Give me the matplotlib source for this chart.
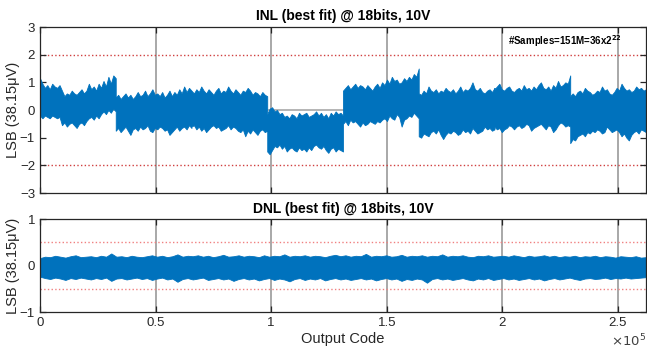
import numpy as np
import matplotlib.pyplot as plt
from matplotlib.ticker import FixedLocator, FixedFormatter

plt.rcParams['font.family'] = ['Liberation Sans', 'DejaVu Sans']

# INL envelope: 8 blocks of 32768 codes, 32 samples per block
seg_len = 32768
inl_upper = [
    [1.15, 0.95, 0.8, 0.9, 0.75, 0.95, 0.85, 0.8, 0.9, 0.7, 0.5, 0.6, 0.55, 0.7, 0.6, 0.55,
     0.65, 0.75, 0.6, 0.7, 0.95, 0.75, 0.85, 0.7, 0.95, 0.8, 1.05, 0.85, 1.2, 0.95, 1.25, 1.15],
    [0.45, 0.55, 0.4, 0.5, 0.6, 0.45, 0.55, 0.4, 0.5, 0.65, 0.5, 0.55, 0.7, 0.5, 0.6, 0.75,
     0.55, 0.6, 0.5, 0.65, 0.45, 0.55, 0.7, 0.5, 0.65, 0.55, 0.75, 0.6, 0.85, 0.65, 0.8, 0.7],
    [0.7, 0.6, 0.75, 0.65, 0.85, 0.7, 0.6, 0.75, 0.65, 0.55, 0.7, 0.8, 0.6, 0.7, 0.65, 0.85,
     0.7, 0.6, 0.75, 0.65, 0.55, 0.7, 0.65, 0.8, 0.7, 0.55, 0.65, 0.6, 0.5, 0.65, 0.55, 0.5],
    [-0.15, 0.05, 0.1, -0.05, 0.0, -0.15, -0.1, -0.25, -0.2, -0.3, -0.15, -0.2, -0.3, -0.1, -0.2, -0.15,
     -0.1, -0.25, -0.2, -0.15, -0.05, -0.2, -0.1, -0.25, -0.15, -0.3, -0.1, -0.2, -0.05, -0.15, -0.1, -0.2],
    [0.7, 0.8, 0.9, 0.75, 0.85, 0.95, 0.8, 0.9, 0.85, 0.75, 0.9, 0.8, 0.7, 0.85, 0.95, 0.8,
     1.0, 0.9, 1.1, 0.95, 1.2, 1.05, 1.1, 0.95, 1.0, 1.15, 1.05, 1.2, 1.1, 1.3, 1.2, 1.5],
    [0.6, 0.55, 0.7, 0.6, 0.85, 0.7, 0.65, 0.75, 0.6, 0.7, 0.65, 0.8, 0.7, 0.65, 0.75, 0.6,
     0.7, 0.85, 0.65, 0.75, 0.7, 0.8, 1.0, 0.75, 0.7, 0.8, 0.65, 0.6, 0.7, 0.75, 0.65, 0.8],
    [0.75, 0.85, 0.95, 0.75, 0.7, 0.8, 0.85, 0.7, 0.65, 0.75, 0.8, 0.7, 0.9, 0.75, 0.8, 0.7,
     0.85, 0.75, 0.9, 1.0, 0.8, 0.75, 0.85, 0.7, 0.9, 0.8, 1.05, 0.85, 0.9, 1.0, 0.95, 1.25],
    [0.5, 0.6, 0.5, 0.65, 0.7, 0.6, 0.8, 0.7, 0.65, 0.55, 0.6, 0.7, 0.65, 0.85, 0.7, 0.75,
     0.6, 0.55, 0.65, 0.8, 0.7, 0.95, 0.8, 0.7, 0.75, 0.65, 0.7, 0.85, 0.75, 0.8, 0.7, 0.75],
]
inl_lower = [
    [-0.2, -0.3, -0.2, -0.25, -0.3, -0.2, -0.25, -0.3, -0.25, -0.55, -0.45, -0.6, -0.5, -0.45, -0.55, -0.65,
     -0.5, -0.45, -0.55, -0.4, -0.3, -0.25, -0.35, -0.2, -0.3, -0.15, -0.05, -0.15, 0.0, -0.1, 0.05, -0.05],
    [-0.75, -0.65, -0.8, -0.7, -0.6, -0.75, -0.9, -0.7, -0.65, -0.75, -0.6, -0.7, -0.65, -0.55, -0.75, -0.8,
     -0.65, -0.7, -0.6, -0.65, -0.75, -0.7, -0.9, -0.8, -0.7, -0.6, -0.75, -0.65, -0.6, -0.7, -0.55, -0.65],
    [-0.6, -0.55, -0.7, -0.6, -0.75, -0.65, -0.8, -0.7, -0.6, -0.55, -0.65, -0.6, -0.75, -0.7, -0.65, -0.55,
     -0.7, -0.6, -0.65, -0.75, -0.8, -0.7, -0.95, -0.75, -0.85, -0.7, -0.8, -0.9, -0.75, -0.7, -0.8, -0.75],
    [-1.5, -1.6, -1.45, -1.3, -1.35, -1.25, -1.4, -1.3, -1.5, -1.4, -1.35, -1.45, -1.5, -1.35, -1.45, -1.4,
     -1.5, -1.35, -1.45, -1.3, -1.25, -1.35, -1.4, -1.3, -1.45, -1.55, -1.4, -1.35, -1.5, -1.4, -1.45, -1.5],
    [-0.5, -0.4, -0.55, -0.35, -0.45, -0.4, -0.5, -0.6, -0.45, -0.55, -0.5, -0.4, -0.45, -0.5, -0.4, -0.45,
     -0.35, -0.3, -0.4, -0.2, -0.3, -0.35, -0.15, -0.25, -0.6, -0.35, -0.3, -0.2, -0.25, -0.1, -0.2, -0.3],
    [-0.95, -1.0, -0.85, -0.9, -0.95, -0.8, -0.75, -0.85, -0.7, -0.9, -1.05, -0.9, -0.8, -0.85, -0.75, -0.8,
     -0.9, -0.85, -0.7, -0.8, -0.75, -0.85, -0.65, -0.75, -0.85, -0.8, -0.75, -0.6, -0.7, -0.65, -0.75, -0.7],
    [-0.6, -0.7, -0.65, -0.8, -0.7, -0.65, -0.55, -0.6, -0.7, -0.6, -0.55, -0.65, -0.6, -0.5, -0.55, -0.75,
     -0.65, -0.6, -0.55, -0.5, -0.6, -0.7, -0.55, -0.6, -0.8, -0.7, -0.55, -0.45, -0.5, -0.6, -0.55, -0.6],
    [-1.2, -1.05, -1.1, -0.95, -0.9, -0.85, -0.95, -0.8, -0.85, -0.75, -0.8, -0.7, -0.75, -0.85, -0.8, -0.6,
     -0.7, -0.8, -0.75, -0.7, -0.8, -0.95, -0.85, -1.0, -1.1, -0.9, -0.8, -0.75, -0.85, -0.7, -0.75, -0.8],
]

# DNL envelope
dnl_upper = [0.16, 0.19, 0.18, 0.21, 0.19, 0.17, 0.20, 0.22, 0.18, 0.19,
             0.20, 0.18, 0.21, 0.19, 0.26, 0.19, 0.20, 0.18, 0.21, 0.19,
             0.18, 0.20, 0.22, 0.19, 0.21, 0.18, 0.20, 0.24, 0.19, 0.21,
             0.20, 0.22, 0.19, 0.21, 0.18, 0.20, 0.23, 0.19, 0.20, 0.22,
             0.19, 0.21, 0.20, 0.18, 0.22, 0.19, 0.21, 0.20, 0.24, 0.19,
             0.21, 0.20, 0.22, 0.19, 0.21, 0.20, 0.18, 0.21, 0.23, 0.20,
             0.22, 0.19, 0.21, 0.20, 0.25, 0.19, 0.21, 0.20, 0.22, 0.19,
             0.20, 0.23, 0.19, 0.21, 0.20, 0.22, 0.19, 0.21, 0.20, 0.24,
             0.19, 0.21, 0.20, 0.22, 0.19, 0.18, 0.21, 0.20, 0.22, 0.19,
             0.20, 0.21, 0.19, 0.22, 0.20, 0.18, 0.21, 0.19, 0.20, 0.22,
             0.19, 0.21, 0.18, 0.20, 0.19, 0.21, 0.18, 0.20, 0.19, 0.21,
             0.18, 0.20, 0.19, 0.17, 0.20, 0.19, 0.18, 0.20, 0.17, 0.18]
dnl_lower = [-0.24, -0.27, -0.29, -0.26, -0.28, -0.31, -0.27, -0.29, -0.26, -0.28,
             -0.30, -0.27, -0.29, -0.26, -0.33, -0.28, -0.27, -0.30, -0.28, -0.26,
             -0.29, -0.27, -0.31, -0.28, -0.26, -0.30, -0.28, -0.35, -0.29, -0.27,
             -0.30, -0.28, -0.26, -0.31, -0.29, -0.27, -0.30, -0.28, -0.33, -0.29,
             -0.27, -0.30, -0.28, -0.32, -0.29, -0.27, -0.31, -0.28, -0.30, -0.34,
             -0.29, -0.27, -0.31, -0.28, -0.30, -0.27, -0.32, -0.29, -0.27, -0.30,
             -0.28, -0.31, -0.29, -0.27, -0.30, -0.28, -0.32, -0.29, -0.27, -0.30,
             -0.28, -0.33, -0.29, -0.31, -0.28, -0.30, -0.37, -0.29, -0.27, -0.30,
             -0.28, -0.31, -0.29, -0.27, -0.30, -0.32, -0.28, -0.30, -0.27, -0.31,
             -0.29, -0.27, -0.30, -0.28, -0.31, -0.29, -0.27, -0.30, -0.28, -0.32,
             -0.29, -0.27, -0.30, -0.28, -0.26, -0.29, -0.31, -0.28, -0.27, -0.29,
             -0.28, -0.26, -0.29, -0.27, -0.28, -0.26, -0.28, -0.27, -0.26, -0.25]

xticks = [0, 50000, 100000, 150000, 200000, 250000]
xticklabels = ['0', '0.5', '1', '1.5', '2', '2.5']
n_codes = 262144

blue = '#0072BD'

inl_x = np.concatenate([np.linspace(i * seg_len, (i + 1) * seg_len, len(inl_upper[i]))
                        for i in range(len(inl_upper))])
inl_hi = np.concatenate(inl_upper)
inl_lo = np.concatenate(inl_lower)
dnl_x = np.linspace(0, n_codes, len(dnl_upper))

fig = plt.figure(figsize=(6.47, 3.48), dpi=100)
ax1 = fig.add_axes([0.0618, 0.4454, 0.9366, 0.477])
ax2 = fig.add_axes([0.0618, 0.1034, 0.9366, 0.2672])

def style(ax):
    ax.set_xlim(0, n_codes)
    for x in xticks[1:]:
        ax.axvline(x, color='#a8a8a8', lw=1.4, zorder=0)
    ax.tick_params(direction='in', top=True, right=True, length=4, width=0.9,
                   labelsize=9.5, colors='#262626')
    for s in ax.spines.values():
        s.set_color('#262626')
        s.set_linewidth(0.9)
    ax.xaxis.set_major_locator(FixedLocator(xticks))
    ax.set_ylabel('LSB (38.15\u03bcV)', fontsize=10.5, color='#262626')
    ax.yaxis.set_label_coords(-0.033, 0.5)

# INL
style(ax1)
ax1.axhline(0, color='#a8a8a8', lw=1.2, zorder=0)
ax1.fill_between(inl_x, inl_lo, inl_hi, color=blue, lw=0.6, zorder=2)
for y in (2, -2):
    ax1.axhline(y, color='#d04040', ls=':', lw=1.0, zorder=1)
ax1.set_ylim(-3, 3)
ax1.set_yticks([-3, -2, -1, 0, 1, 2, 3])
ax1.set_xticklabels([])
ax1.set_title('INL (best fit) @ 18bits, 10V', fontsize=10, fontweight='bold', pad=5)
ax1.text(202500, 2.5, r'#Samples=151M=36x2$^{\mathbf{22}}$', fontsize=7, fontweight='bold',
         va='center', ha='left')

# DNL
style(ax2)
ax2.fill_between(dnl_x, dnl_lower, dnl_upper, color=blue, lw=0.6, zorder=2)
for y in (0.5, -0.5):
    ax2.axhline(y, color='#f08080', ls=':', lw=1.0, zorder=1)
ax2.set_ylim(-1, 1)
ax2.set_yticks([-1, 0, 1])
ax2.xaxis.set_major_formatter(FixedFormatter(xticklabels))
ax2.set_xlabel('Output Code', fontsize=10.5, color='#262626', labelpad=2)
ax2.set_title('DNL (best fit) @ 18bits, 10V', fontsize=10, fontweight='bold', pad=4)
ax2.text(1.0, -0.31, r'$\times 10^5$', transform=ax2.transAxes, ha='right', va='center',
         fontsize=9.5, color='#404040')

fig.savefig('out.png', dpi=100)
